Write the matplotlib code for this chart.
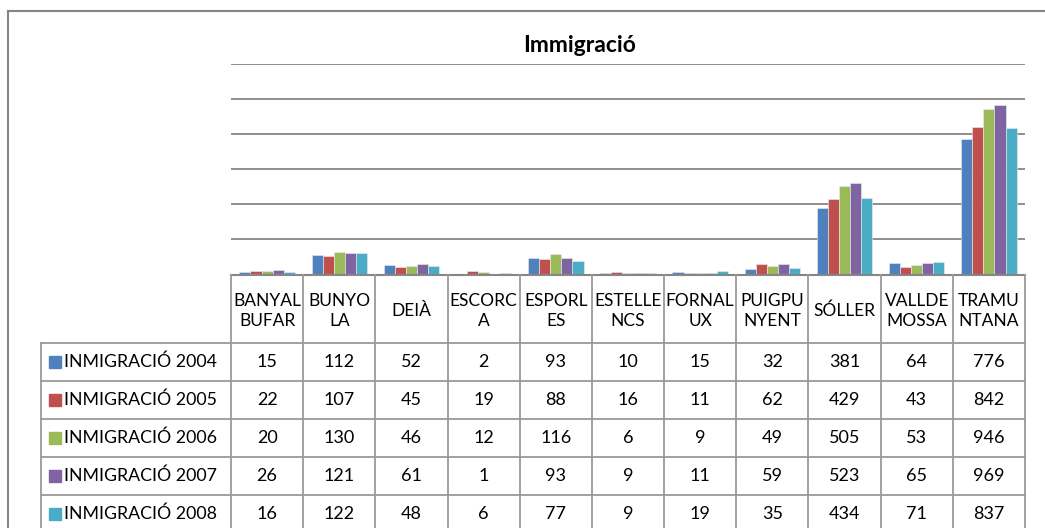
import matplotlib
matplotlib.use("Agg")
import matplotlib.pyplot as plt
import numpy as np

plt.rcParams['font.family'] = ['Lato', 'DejaVu Sans']

# dades
municipis = ["BANYAL\nBUFAR", "BUNYO\nLA", "DEIÀ", "ESCORC\nA", "ESPORL\nES", "ESTELLE\nNCS",
             "FORNAL\nUX", "PUIGPU\nNYENT", "SÓLLER", "VALLDE\nMOSSA", "TRAMU\nNTANA"]
series = ["INMIGRACIÓ 2004", "INMIGRACIÓ 2005", "INMIGRACIÓ 2006", "INMIGRACIÓ 2007", "INMIGRACIÓ 2008"]
imm_2004 = [15, 112, 52, 2, 93, 10, 15, 32, 381, 64, 776]
imm_2005 = [22, 107, 45, 19, 88, 16, 11, 62, 429, 43, 842]
imm_2006 = [20, 130, 46, 12, 116, 6, 9, 49, 505, 53, 946]
imm_2007 = [26, 121, 61, 1, 93, 9, 11, 59, 523, 65, 969]
imm_2008 = [16, 122, 48, 6, 77, 9, 19, 35, 434, 71, 837]
valors = [imm_2004, imm_2005, imm_2006, imm_2007, imm_2008]
colors = ["#4F81BD", "#C0504D", "#9BBB59", "#8064A2", "#4BACC6"]

W, H = 1045, 528
fig = plt.figure(figsize=(W / 100, H / 100), dpi=100)

def fx(x):
    return x / W

def fy(y):
    return 1 - y / H

# area del grafic (pixels)
x0, x1 = 231, 1025
ytop, ybase = 64.3, 274.5
ax = fig.add_axes([fx(x0), fy(ybase), fx(x1) - fx(x0), fy(ytop) - fy(ybase)])
n = len(municipis)
x = np.arange(n)
bw = 1 / 6.5
for i, (vals, c) in enumerate(zip(valors, colors)):
    ax.bar(x + (i - 2) * bw, vals, width=bw, color=c, edgecolor="#e8eef5", linewidth=0.4, zorder=3)
ax.set_xlim(-0.5, n - 0.5)
ax.set_ylim(0, 1200)
ax.set_yticks(range(200, 1201, 200))
ax.yaxis.grid(True, color="#868686", linewidth=1.3, zorder=0)
ax.set_xticks([])
ax.tick_params(left=False, labelleft=False)
for s in ax.spines.values():
    s.set_visible(False)

fig.text(fx(580), fy(46), "Immigració", ha="center", va="center", fontsize=16.5, fontweight="bold")

def hline(y, xa, xb, c="#9a9a9a", lw=1.3):
    fig.add_artist(plt.Line2D([fx(xa), fx(xb)], [fy(y), fy(y)], color=c, lw=lw))

def vline(x_, ya, yb, c="#9a9a9a", lw=1.3):
    fig.add_artist(plt.Line2D([fx(x_), fx(x_)], [fy(ya), fy(yb)], color=c, lw=lw))

# marc exterior
hline(11, 8, W, c="#868686", lw=1.5)
vline(8, 11, H, c="#868686", lw=1.5)

# taula de dades
colw = (x1 - x0) / n
rows_y = [343, 381, 419, 457, 495, 533]
hline(ybase, x0, x1, c="#868686", lw=1.5)
for yy in rows_y:
    hline(yy, 41, x1)
vline(41, 343, H)
for k in range(n + 1):
    vline(x0 + k * colw, ybase, H)

for k, m in enumerate(municipis):
    fig.text(fx(x0 + (k + 0.5) * colw), fy(311), m, ha="center", va="center",
             fontsize=12.5, linespacing=1.3)

for r, (nom, vals, c) in enumerate(zip(series, valors, colors)):
    yc = (rows_y[r] + rows_y[r + 1]) / 2
    fig.patches.append(plt.Rectangle((fx(49), fy(yc + 6)), fx(12), 12 / H, color=c,
                                     transform=fig.transFigure, figure=fig))
    fig.text(fx(64), fy(yc), nom, ha="left", va="center", fontsize=12.8)
    for k, v in enumerate(vals):
        fig.text(fx(x0 + (k + 0.5) * colw), fy(yc), str(v), ha="center", va="center", fontsize=13)

fig.savefig("out.png", dpi=100)
